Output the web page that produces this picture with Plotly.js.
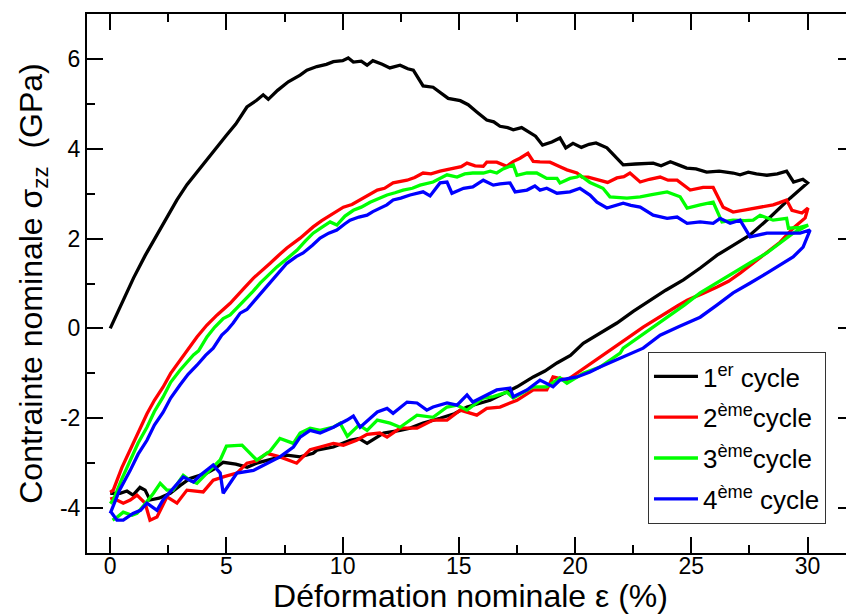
<!DOCTYPE html>
<html>
<head>
<meta charset="utf-8">
<script src="https://cdn.plot.ly/plotly-3.0.1.min.js"></script>
<style>
html,body{margin:0;padding:0;overflow:hidden;background:#fff;}
#chart{width:870px;height:614px;}
</style>
</head>
<body>
<div id="chart"></div>
<script>
// ---- Data (strain % , nominal stress GPa) ----
const cycle1X = [0,0.55,1,1.5,2,2.5,2.87,3.3,3.86,4.17,4.6,5.0,5.4,5.88,6.3,6.58,6.8,7.2,7.66,8.17,8.46,8.89,9.3,9.6,10.0,10.24,10.46,10.8,11.05,11.3,11.7,12.03,12.47,12.8,13.04,13.46,13.89,14.2,14.54,15.06,15.4,15.77,16.2,16.5,16.77,17.1,17.34,17.7,18.06,18.3,18.6,19.0,19.35,19.6,19.91,20.27,20.6,20.9,21.37,21.7,22.07,22.6,23.36,23.7,24.1,24.5,24.8,25.2,25.66,26.2,26.8,27.1,27.45,27.8,28.25,28.7,29.1,29.4,29.8,30.0,
  29.25,28.4,27.53,26.8,26.11,25.4,24.66,23.9,23.23,22.5,21.8,21.07,20.35,19.8,19.22,18.7,18.2,17.5,16.9,16.34,15.35,14.8,14.19,13.46,12.9,12.47,11.76,11.05,10.7,10.32,9.6,8.89,8.73,8.17,7.6,6.75,6.3,5.89,5.4,4.86,4.5,4.16,3.43,3.0,2.58,2.1,1.71,1.5,1.28,0.98,0.72,0.42,0];
const cycle1Y = [0,0.63,1.12,1.62,2.08,2.52,2.86,3.2,3.57,3.75,4.05,4.3,4.55,4.93,5.08,5.2,5.1,5.3,5.49,5.64,5.75,5.83,5.88,5.94,5.96,6.02,5.93,5.95,5.86,5.96,5.88,5.8,5.86,5.78,5.75,5.4,5.37,5.25,5.12,5.07,4.98,4.82,4.64,4.6,4.5,4.47,4.42,4.47,4.35,4.28,4.08,4.15,4.24,4.02,4.12,4.03,4.1,4.13,4.02,3.85,3.64,3.66,3.68,3.62,3.71,3.63,3.57,3.55,3.48,3.5,3.46,3.42,3.48,3.44,3.41,3.44,3.5,3.26,3.32,3.24,
  2.9,2.48,2.08,1.85,1.63,1.35,1.08,0.85,0.63,0.38,0.12,-0.1,-0.33,-0.6,-0.77,-0.95,-1.08,-1.3,-1.45,-1.6,-1.75,-1.9,-2.0,-2.11,-2.22,-2.27,-2.33,-2.56,-2.45,-2.49,-2.64,-2.71,-2.78,-2.86,-2.82,-2.93,-3.0,-3.09,-3.02,-2.98,-3.12,-3.22,-3.34,-3.5,-3.67,-3.78,-3.82,-3.6,-3.54,-3.71,-3.62,-3.67,-3.67];

const cycle2X = [0,0.13,0.5,0.86,1.2,1.58,1.9,2.27,2.6,3.0,3.35,3.73,4.15,4.6,5.16,5.46,5.8,6.16,6.5,6.88,7.25,7.6,8.17,8.73,9.1,9.46,10.03,10.4,10.75,11.1,11.49,11.8,12.17,12.77,13.1,13.46,13.8,14.19,14.75,15.1,15.35,15.7,16.05,16.2,16.63,17.06,17.35,17.63,17.97,18.2,18.49,18.92,19.35,19.65,20.08,20.3,20.56,21.07,21.4,21.8,22.1,22.36,22.8,23.2,23.66,24.0,24.39,24.95,25.51,25.94,26.37,26.8,27.4,27.96,28.52,28.8,29.1,29.33,29.76,30.02,
  29.9,29.38,28.82,28.4,27.96,27.5,27.1,26.6,26.11,25.5,24.82,24.4,23.96,23.4,22.93,22.3,21.8,21.07,20.51,19.65,19.05,18.78,18.2,17.5,16.77,16.2,15.77,15.48,15.06,14.49,13.89,13.2,12.47,11.91,11.6,11.05,10.6,10.03,9.6,9.03,8.6,8.02,7.3,6.74,6.3,5.88,5.45,4.9,4.43,4.0,3.3,2.87,2.44,2.01,1.71,1.5,1.15,0.86,0.56,0.13,0];
const cycle2Y = [-3.65,-3.6,-3.1,-2.71,-2.3,-1.9,-1.6,-1.31,-1.0,-0.71,-0.45,-0.19,0.07,0.3,0.56,0.74,0.92,1.12,1.27,1.45,1.63,1.79,2.01,2.26,2.4,2.52,2.7,2.76,2.86,2.95,3.08,3.12,3.24,3.3,3.36,3.46,3.44,3.5,3.55,3.6,3.68,3.62,3.61,3.7,3.7,3.61,3.72,3.79,3.9,3.72,3.71,3.7,3.6,3.53,3.46,3.37,3.37,3.3,3.25,3.35,3.38,3.46,3.26,3.32,3.37,3.3,3.3,3.08,3.14,3.14,2.7,2.59,2.64,2.7,2.75,2.8,2.86,2.63,2.57,2.68,
  2.46,2.23,1.92,1.75,1.57,1.4,1.23,1.05,0.92,0.78,0.63,0.5,0.36,0.2,0.03,-0.2,-0.38,-0.64,-0.86,-1.15,-1.08,-1.37,-1.37,-1.6,-1.75,-1.78,-1.93,-1.89,-1.82,-2.04,-2.04,-2.22,-2.22,-2.42,-2.33,-2.36,-2.49,-2.6,-2.56,-2.64,-2.7,-3.0,-2.86,-2.78,-2.95,-3.0,-3.22,-3.3,-3.38,-3.64,-3.6,-3.89,-3.75,-4.2,-4.27,-3.89,-3.71,-3.82,-3.89,-3.78,-3.8];

const cycle3X = [0,0.13,0.5,0.86,1.2,1.58,1.9,2.27,2.6,3.0,3.58,3.8,4.16,4.5,4.86,5.16,5.73,6.1,6.45,6.8,7.17,7.6,8.03,8.4,8.73,9.1,9.46,9.75,10.1,10.46,10.8,11.18,11.5,11.91,12.25,12.6,13.0,13.33,13.89,14.2,14.49,14.92,15.25,15.6,16.05,16.35,16.63,16.9,17.2,17.34,17.5,17.93,18.35,18.78,19.22,19.35,19.78,20.08,20.21,20.64,21.2,21.5,22.23,22.8,23.3,23.66,23.96,24.52,24.82,25.38,25.94,26.32,26.8,27.3,27.66,27.96,28.52,29.1,29.18,29.68,30.03,
  29.38,28.8,28.25,27.5,26.8,26.1,25.38,24.7,23.96,23.4,22.8,22.07,21.94,21.07,20.35,19.65,19.35,18.78,18.2,17.34,17.07,16.48,16.05,15.35,14.92,14.49,13.89,13.2,12.47,12.04,11.49,11.05,10.7,10.2,9.89,9.6,9.03,8.6,8.17,7.88,7.3,6.88,6.3,5.67,5.0,4.73,4.16,3.73,3.43,3.14,2.7,2.44,2.15,1.86,1.43,1.15,0.94,0.56,0.3,0.1];
const cycle3Y = [-3.9,-3.82,-3.35,-2.94,-2.55,-2.2,-1.85,-1.53,-1.2,-0.93,-0.59,-0.5,-0.19,0.03,0.22,0.3,0.59,0.8,1.01,1.18,1.37,1.55,1.74,1.95,2.12,2.25,2.37,2.3,2.5,2.63,2.7,2.81,2.88,2.97,3.02,3.08,3.12,3.19,3.26,3.35,3.42,3.37,3.44,3.46,3.46,3.5,3.46,3.55,3.62,3.64,3.41,3.46,3.46,3.34,3.34,3.24,3.34,3.37,3.41,3.25,3.12,2.93,2.9,2.93,2.98,3.01,3.04,2.93,2.68,2.75,2.81,2.37,2.41,2.4,2.41,2.52,2.41,2.45,2.23,2.25,2.3,
  2.12,1.9,1.68,1.45,1.23,1.0,0.79,0.52,0.25,0.03,-0.19,-0.44,-0.55,-0.86,-1.0,-1.22,-1.1,-1.3,-1.3,-1.55,-1.42,-1.52,-1.55,-1.82,-1.71,-1.75,-1.98,-1.93,-2.2,-2.11,-2.04,-2.27,-2.15,-2.4,-2.11,-2.2,-2.27,-2.22,-2.33,-2.56,-2.45,-2.73,-2.93,-2.6,-2.62,-2.93,-3.22,-3.45,-3.38,-3.27,-3.6,-3.6,-3.45,-3.67,-3.95,-4.12,-4.16,-4.09,-4.2,-4.27];

const cycle4X = [0,0.4,0.86,1.2,1.58,1.9,2.27,2.6,3.0,3.35,3.73,4.1,4.43,4.8,5.03,5.29,5.59,5.88,6.31,6.65,7.0,7.3,7.6,8.0,8.3,8.7,9.03,9.4,9.75,10.1,10.32,10.7,11.05,11.3,11.6,11.9,12.17,12.5,12.9,13.2,13.46,13.76,14.19,14.49,14.7,15.2,15.6,16.05,16.48,16.77,17.07,17.2,17.42,17.93,18.27,18.49,18.78,19.22,19.78,20.21,20.64,20.94,21.37,21.7,22.07,22.4,22.8,23.36,23.96,24.39,24.82,25.38,25.94,26.24,26.67,27.1,27.53,28.25,28.95,29.68,30.11,
  29.81,29.38,28.8,28.25,27.5,26.8,26.1,25.38,24.5,23.66,22.93,21.94,21.07,20.64,20.08,19.35,19.05,18.49,17.93,17.34,17.2,16.63,16.2,15.6,15.35,14.92,14.49,13.89,13.62,13.2,12.77,12.17,11.91,11.49,10.75,10.46,10.19,9.6,9.03,8.6,8.17,7.88,7.3,6.74,6.16,5.45,5.03,4.86,4.73,4.43,3.87,3.58,3.14,2.7,2.27,2.01,1.58,1.3,0.98,0.56,0.29,0.05];
const cycle4Y = [-4.12,-3.6,-3.16,-2.8,-2.49,-2.15,-1.87,-1.55,-1.26,-1.02,-0.82,-0.6,-0.44,-0.15,-0.04,0.12,0.34,0.42,0.68,0.88,1.08,1.25,1.45,1.6,1.68,1.85,2.01,2.12,2.19,2.33,2.41,2.48,2.52,2.6,2.68,2.75,2.86,2.9,2.97,3.0,3.04,2.95,3.24,3.26,3.01,3.12,3.15,3.3,3.19,3.22,3.24,3.24,3.04,3.08,3.17,3.08,3.12,3.01,3.04,3.12,2.97,2.81,2.68,2.74,2.79,2.74,2.7,2.52,2.45,2.48,2.34,2.37,2.34,2.45,2.34,2.41,2.04,2.12,2.12,2.12,2.19,
  1.81,1.59,1.4,1.23,1.0,0.79,0.52,0.25,0.05,-0.15,-0.44,-0.66,-0.86,-0.97,-1.08,-1.15,-1.3,-1.15,-1.37,-1.52,-1.33,-1.37,-1.48,-1.64,-1.48,-1.71,-1.66,-1.75,-1.82,-1.66,-1.64,-1.89,-1.78,-1.86,-2.2,-1.95,-2.04,-2.2,-2.33,-2.27,-2.42,-2.64,-2.86,-3.0,-3.16,-3.22,-3.53,-3.67,-3.22,-3.04,-3.27,-3.42,-3.31,-3.56,-3.82,-4.05,-3.89,-4.05,-4.12,-4.27,-4.27,-4.1];

const seriesNames = ['1<sup>er</sup> cycle','2<sup>ème</sup>cycle','3<sup>ème</sup>cycle','4<sup>ème</sup> cycle'];
const seriesColors = ['#000000','#ff0000','#00ff00','#0000ff'];

const xTickVals = [0,5,10,15,20,25,30];
const xTickText = ['0','5','10','15','20','25','30'];
const xMinorVals = [2.5,7.5,12.5,17.5,22.5,27.5];
const yTickVals = [-4,-2,0,2,4,6];
const yTickText = ['-4','-2','0','2','4','6'];
const yMinorVals = [-3,-1,1,3,5];

const xs = [cycle1X, cycle2X, cycle3X, cycle4X];
const ys = [cycle1Y, cycle2Y, cycle3Y, cycle4Y];

const FONT = 'Liberation Sans, Arial, sans-serif';

const traces = xs.map((x, i) => ({
  x: x, y: ys[i], type: 'scatter', mode: 'lines',
  name: seriesNames[i], legendgroup: 'g' + i,
  line: {color: seriesColors[i], width: 3.3}
}));

const axisCommon = {
  showgrid: false, zeroline: false,
  showline: true, linecolor: '#000', linewidth: 2,
  mirror: 'ticks', ticks: 'inside', ticklen: 16, tickwidth: 2, tickcolor: '#000',
  tickmode: 'array',
  tickfont: {family: FONT, size: 23, color: '#000'}
};

const layout = {
  width: 870, height: 614,
  margin: {l: 87, r: 16, t: 14, b: 61},
  paper_bgcolor: '#fff', plot_bgcolor: '#fff',
  font: {family: FONT, color: '#000'},
  showlegend: true,
  xaxis: Object.assign({}, axisCommon, {
    range: [-1, 32], tickvals: xTickVals, ticktext: xTickText,
    ticklabelstandoff: -9,
    minor: {tickmode: 'array', tickvals: xMinorVals, ticks: 'inside', ticklen: 8, tickwidth: 2, tickcolor: '#000'},
    title: {text: 'Déformation nominale ε (%)', font: {family: FONT, size: 32, color: '#000'}, standoff: 14}
  }),
  yaxis: Object.assign({}, axisCommon, {
    range: [-5, 7], tickvals: yTickVals, ticktext: yTickText,
    minor: {tickmode: 'array', tickvals: yMinorVals, ticks: 'inside', ticklen: 8, tickwidth: 2, tickcolor: '#000'},
    title: {text: 'Contrainte nominale σ<sub>zz</sub>  (GPa)', font: {family: FONT, size: 32, color: '#000'}, standoff: 8}
  }),
  legend: {
    x: 0.7314, y: 0.3729, xanchor: 'left', yanchor: 'top',
    bgcolor: '#fff', bordercolor: '#333', borderwidth: 1,
    font: {family: FONT, size: 26, color: '#000'},
    itemwidth: 44,
    tracegroupgap: 4
  }
};

Plotly.newPlot('chart', traces, layout, {displayModeBar: false, staticPlot: true});
</script>
</body>
</html>
